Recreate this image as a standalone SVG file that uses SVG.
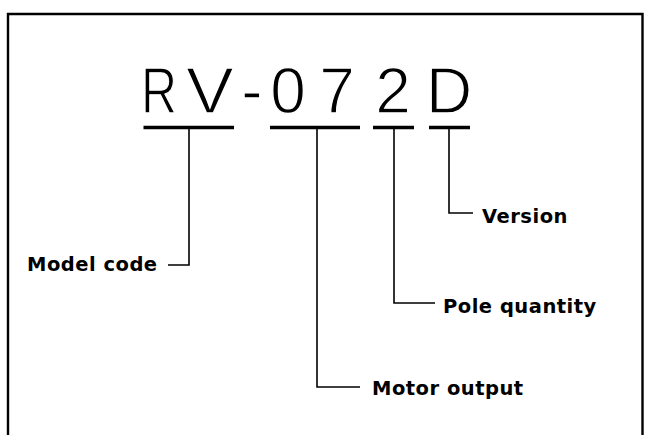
<svg xmlns="http://www.w3.org/2000/svg" width="661" height="435" viewBox="0 0 661 435">
<style>
.frame{fill:none;stroke:#000;stroke-width:2.4}
.big{font-family:"Liberation Sans",Arial,sans-serif;font-size:64px;fill:#000;text-anchor:middle;stroke:#fff;stroke-width:1.3}
.lbl{font-family:"DejaVu Sans","Open Sans",sans-serif;font-weight:bold;font-size:19.5px;letter-spacing:0.5px;fill:#000}
.ul{stroke:#000;stroke-width:3.5;fill:none}
.con{stroke:#000;stroke-width:1.6;fill:none}
</style>
<rect width="661" height="435" fill="#fff"/>
<path class="frame" d="M8 440 V14 H642.5 V440"/>
<g id="code">
<text class="big" transform="translate(159,113) scale(0.78,1)">R</text>
<text class="big" transform="translate(210,113) scale(1.12,1)">V</text>
<text class="big" x="252" y="113">-</text>
<text class="big" x="288" y="113">0</text>
<text class="big" x="337" y="113">7</text>
<text class="big" x="393" y="113">2</text>
<text class="big" x="449" y="113">D</text>
</g>
<g id="underlines">
<line class="ul" x1="143.5" y1="127.5" x2="234" y2="127.5"/>
<line class="ul" x1="270" y1="127.5" x2="360" y2="127.5"/>
<line class="ul" x1="373" y1="127.5" x2="414" y2="127.5"/>
<line class="ul" x1="429" y1="127.5" x2="470" y2="127.5"/>
</g>
<g id="connectors">
<path class="con" d="M189 129 V265 H168"/>
<path class="con" d="M317 129 V387 H360"/>
<path class="con" d="M394 129 V303 H435"/>
<path class="con" d="M449 129 V213 H473"/>
</g>
<g id="model-code"><text class="lbl" x="27" y="270.5">Model code</text></g>
<g id="motor-output"><text class="lbl" x="372" y="394.5">Motor output</text></g>
<g id="pole-quantity"><text class="lbl" x="443" y="312.5">Pole quantity</text></g>
<g id="version"><text class="lbl" x="482" y="222.5">Version</text></g>
</svg>
